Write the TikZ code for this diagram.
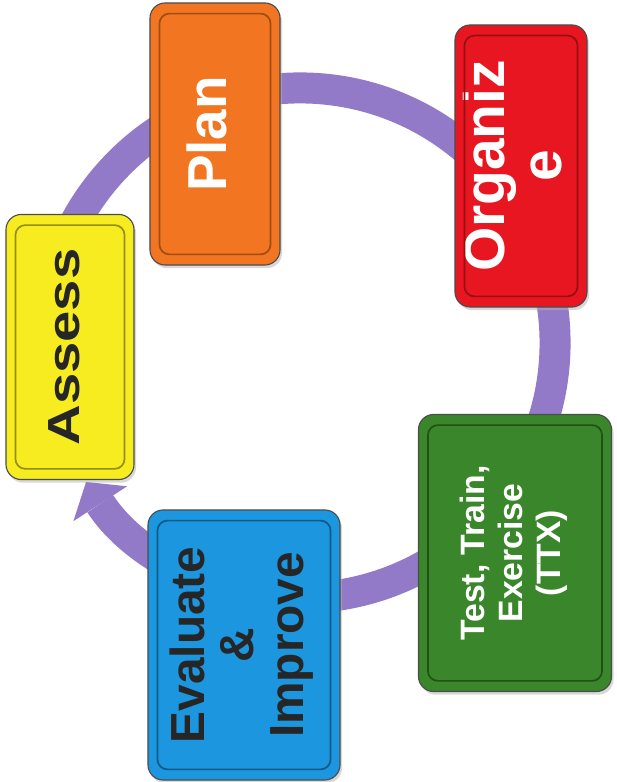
\documentclass[tikz,border=0pt]{standalone}
\usepackage{graphicx}
\usepackage{fontspec}
\setmainfont{Liberation Sans}
\usetikzlibrary{arrows.meta,shadows}
\definecolor{ringpurple}{RGB}{146,122,200}
\definecolor{planorange}{RGB}{242,118,34}
\definecolor{orgred}{RGB}{232,22,32}
\definecolor{ttxgreen}{RGB}{58,134,42}
\definecolor{evalblue}{RGB}{28,150,222}
\definecolor{assessyellow}{RGB}{246,236,32}
% upright text turned to read bottom to top
\newcommand{\vtext}[4][1]{\rotatebox{90}{\scalebox{1}[#1]{\fontsize{#2}{#3}\selectfont\bfseries
  \begin{tabular}{@{}c@{}}#4\end{tabular}}}}
\begin{document}
\begin{tikzpicture}[x = 0.025cm, y = 0.025cm,
		box/.style = {rectangle, rounded corners = 0.38cm, draw = black!70, line width = 0.8pt,
			inner sep = 0pt, drop shadow = {shadow xshift = 0.5mm, shadow yshift = -0.8mm, fill = black!30}},
		bevel/.style = {rounded corners = 0.25cm, line width = 1.2pt},
		ring/.style = {draw = ringpurple, line width = 0.775cm,
			-{Triangle[width = 1.6cm, length = 0.65cm, line width = 0pt]}}]
		\useasboundingbox (0, 0) rectangle (617, 782);
		%%%%%%%%%%%%%
		\coordinate (ctr) at (300, 439);
		\draw [ring] (ctr) ++(180:6.375cm) arc [start angle = 180, end angle = -147, radius = 6.375cm];
		%%%%%%%%%%%%%
		\node [box, fill = planorange, text = white, minimum width = 3.25cm, minimum height = 6.55cm]
			(plan) at (215, 648) {\vtext{39pt}{41pt}{Plan}};
		\node [box, fill = orgred, text = white, minimum width = 3.3cm, minimum height = 7.05cm]
			(organize) at (521, 616) {\vtext{40.5pt}{40.5pt}{Organiz\\e}};
		\node [box, fill = ttxgreen, text = white, minimum width = 4.825cm, minimum height = 6.925cm]
			(ttx) at (515, 229) {\vtext{24pt}{27pt}{Test, Train,\\Exercise\\(TTX)}};
		\node [box, fill = evalblue, text = black!85, minimum width = 4.8cm, minimum height = 6.75cm]
			(evaluate) at (244, 137) {\vtext{34pt}{35.5pt}{Evaluate\\\&\\Improve}};
		\node [box, fill = assessyellow, text = black!85, minimum width = 3.2cm, minimum height = 6.625cm]
			(assess) at (70, 435) {\vtext[0.8]{40pt}{42pt}{Assess}};
		%%%%%%%%%%%%%
		\draw [bevel, planorange!65!black] ([shift = {(0.25cm, 0.28cm)}] plan.south west) rectangle ([shift = {(-0.25cm, -0.28cm)}] plan.north east);
		\draw [bevel, orgred!65!black] ([shift = {(0.25cm, 0.28cm)}] organize.south west) rectangle ([shift = {(-0.25cm, -0.28cm)}] organize.north east);
		\draw [bevel, ttxgreen!60!black] ([shift = {(0.25cm, 0.28cm)}] ttx.south west) rectangle ([shift = {(-0.25cm, -0.28cm)}] ttx.north east);
		\draw [bevel, evalblue!60!black] ([shift = {(0.25cm, 0.28cm)}] evaluate.south west) rectangle ([shift = {(-0.25cm, -0.28cm)}] evaluate.north east);
		\draw [bevel, assessyellow!60!black] ([shift = {(0.25cm, 0.28cm)}] assess.south west) rectangle ([shift = {(-0.25cm, -0.28cm)}] assess.north east);
		%%%%%%%%%%%%%%
	\end{tikzpicture}
\end{document}
